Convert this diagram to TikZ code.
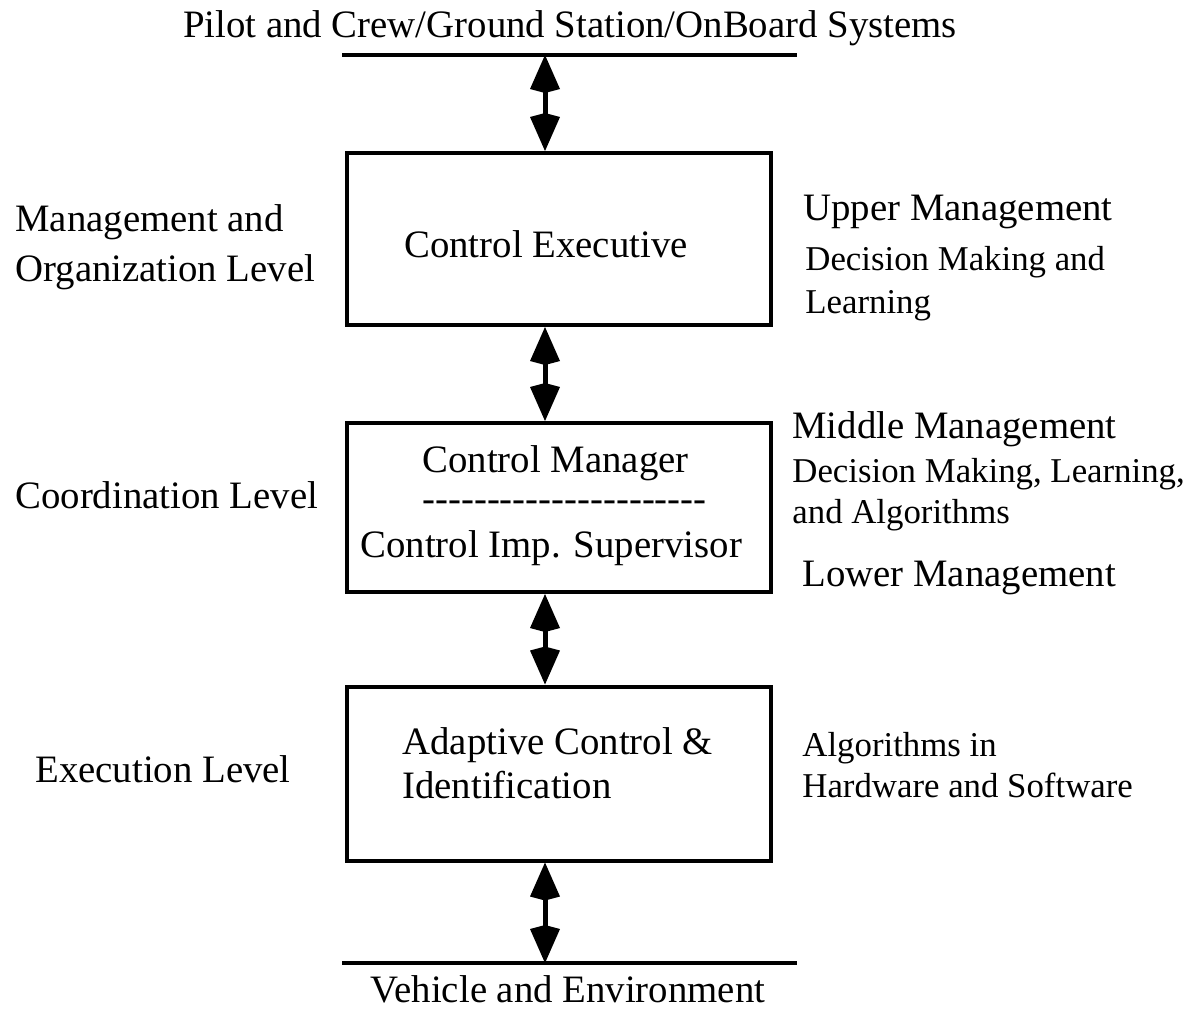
\documentclass[tikz,border=0pt]{standalone}
\usepackage{fontspec}
\setmainfont{Liberation Serif}
\usetikzlibrary{arrows.meta}

\begin{document}
\begin{tikzpicture}%
        [x=0.5pt, y=-0.5pt,
        box/.style={draw, line width=2pt, minimum width=212pt, inner sep=0pt},
        bar/.style={line width=2pt},
        link/.style={line width=2.5pt, {Kite[length=19pt,width=15pt,inset=2pt]}-{Kite[length=19pt,width=15pt,inset=2pt]}},
        big/.style={font=\fontsize{19.4pt}{22pt}\selectfont, inner sep=0pt},
        small/.style={font=\fontsize{17.4pt}{20.5pt}\selectfont, inner sep=0pt, align=left, anchor=base west}]
    \useasboundingbox (0,0) rectangle (1192,1014);
    %%
    %% Boxes of the three levels
    %%
    \node[box, minimum height=86pt] (exec) at (559,239) {};
    \node[box, minimum height=84.5pt] (mgr) at (559,507.5) {};
    \node[box, minimum height=87pt] (adapt) at (559,773.5) {};
    %%
    %% Top and bottom bars
    %%
    \coordinate (topW) at (342,55);
    \coordinate (topE) at (797,55);
    \coordinate (botW) at (342,963);
    \coordinate (botE) at (797,963);
    \coordinate (up) at (545,55);
    \coordinate (down) at (545,963);
    \draw[bar] (topW) -- (topE);
    \draw[bar] (botW) -- (botE);
    %%
    %% Links
    %%
    \draw[link] (up) -- (up |- exec.north);
    \draw[link] (up |- exec.south) -- (up |- mgr.north);
    \draw[link] (up |- mgr.south) -- (up |- adapt.north);
    \draw[link] (up |- adapt.south) -- (down);
    %%
    %% Texts (multi-line nodes sit on their last baseline)
    %%
    \node[big, anchor=base] (crew) at (570,37) {Pilot and Crew/Ground Station/OnBoard Systems};
    \node[big, anchor=base] (vehicle) at (568,1002) {Vehicle and Environment};
    \node[big, anchor=base] (execText) at (546,257) {Control Executive};
    \node[big, anchor=base west] (mgrText) at (422,472) {Control Manager};
    \node[big, anchor=base west] (mgrDash) at (422,511) {\foreach \i in {1,...,22}{\mbox{-}}};
    \node[big, anchor=base west] (supText) at (360,557) {Control Imp. Supervisor};
    \node[big, anchor=base west, align=left] (adaptText) at (402,798) {Adaptive Control \&\\Identification};
    %%
    \node[big, anchor=base west, align=left] (mgmtLevel) at (15,281) {Management and\\[3pt]Organization Level};
    \node[big, anchor=base west] (coordLevel) at (15,508) {Coordination Level};
    \node[big, anchor=base west] (execLevel) at (35,782) {Execution Level};
    %%
    \node[big, anchor=base west] (upper) at (803,220) {Upper Management};
    \node[small] (upperNote) at (805,313) {Decision Making and\\[1pt]Learning};
    \node[big, anchor=base west] (middle) at (792,438) {Middle Management};
    \node[small] (middleNote) at (792,523) {Decision Making, Learning,\\and Algorithms};
    \node[big, anchor=base west] (lower) at (802,586) {Lower Management};
    \node[small] (lowerNote) at (802,797) {Algorithms in\\Hardware and Software};
\end{tikzpicture}
\end{document}
